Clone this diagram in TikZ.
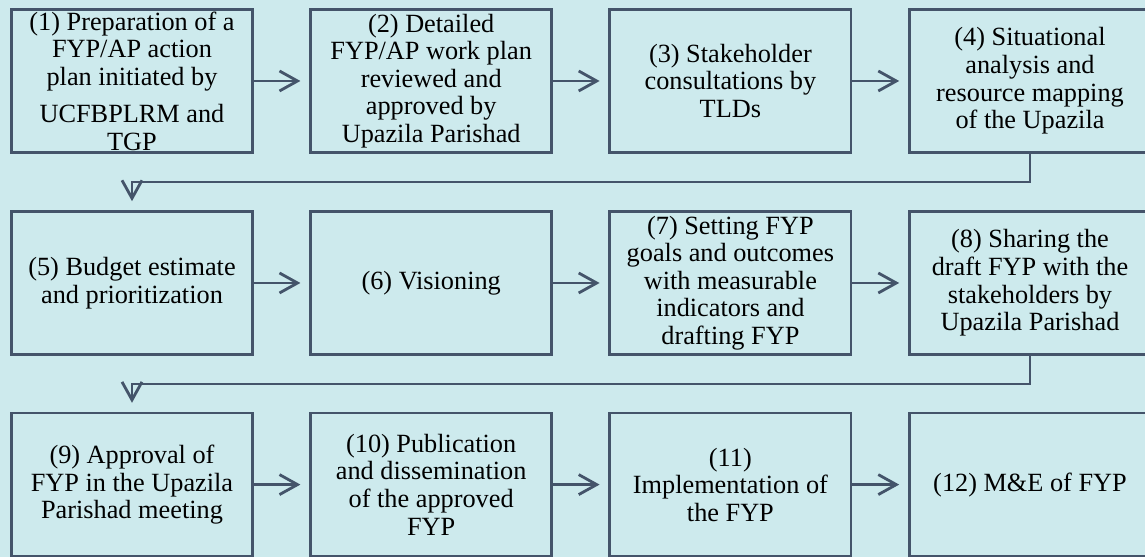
\documentclass[tikz,border=0pt]{standalone}
\usepackage{fontspec}
\setmainfont{Liberation Serif}
\usetikzlibrary{arrows.meta,calc}
\definecolor{lightcyan}{HTML}{CDEAED}
\definecolor{slateblue}{HTML}{44546A}
\begin{document}
\begin{tikzpicture}[every node/.style={font=\fontsize{18.7}{19.6}\selectfont, align=center},
  stepbox/.style={draw=slateblue, line width=2pt, minimum width=6.03cm, minimum height=3.58cm, inner sep=0pt},
  flow/.style={draw=slateblue, line width=2pt, -{Straight Barb[length=4.5mm,width=5mm]}, shorten >=0.22cm}]
      \clip (0,0) rectangle (28.625,13.925);
      \fill[lightcyan] (0,0) rectangle (28.625,13.925);

      \node at (3.3,11.9) [stepbox] (s1) {(1) Preparation of a\\ FYP/AP action\\ plan initiated by\\[7pt] UCFBPLRM and\\ TGP};
      \node at (10.78,11.9) [stepbox] (s2) {(2) Detailed\\ FYP/AP work plan\\ reviewed and\\ approved by\\ Upazila Parishad};
      \node at (18.26,11.9) [stepbox] (s3) {(3) Stakeholder\\ consultations by\\ TLDs};
      \node at (25.75,11.9) [stepbox] (s4) {(4) Situational\\ analysis and\\ resource mapping\\ of the Upazila};

      \node at (3.3,6.85) [stepbox] (s5) {(5) Budget estimate\\ and prioritization};
      \node at (10.78,6.85) [stepbox] (s6) {(6) Visioning};
      \node at (18.26,6.85) [stepbox] (s7) {(7) Setting FYP\\ goals and outcomes\\ with measurable\\ indicators and\\ drafting FYP};
      \node at (25.75,6.85) [stepbox] (s8) {(8) Sharing the\\ draft FYP with the\\ stakeholders by\\ Upazila Parishad};

      \node at (3.3,1.81) [stepbox] (s9) {(9) Approval of\\ FYP in the Upazila\\ Parishad meeting};
      \node at (10.78,1.81) [stepbox] (s10) {(10) Publication\\ and dissemination\\ of the approved\\ FYP};
      \node at (18.26,1.81) [stepbox] (s11) {(11)\\ Implementation of\\ the FYP};
      \node at (25.75,1.81) [stepbox] (s12) {(12) M\&E of FYP};

      \draw[flow] (s1) -- (s2);
      \draw[flow] (s2) -- (s3);
      \draw[flow] (s3) -- (s4);
      \draw[flow] (s4.south) -- ++(0,-0.7) -| (s5.north);

      \draw[flow] (s5) -- (s6);
      \draw[flow] (s6) -- (s7);
      \draw[flow] (s7) -- (s8);
      \draw[flow] (s8.south) -- ++(0,-0.7) -| (s9.north);

      \draw[flow] (s9) -- (s10);
      \draw[flow] (s10) -- (s11);
      \draw[flow] (s11) -- (s12);
\end{tikzpicture}
\end{document}
